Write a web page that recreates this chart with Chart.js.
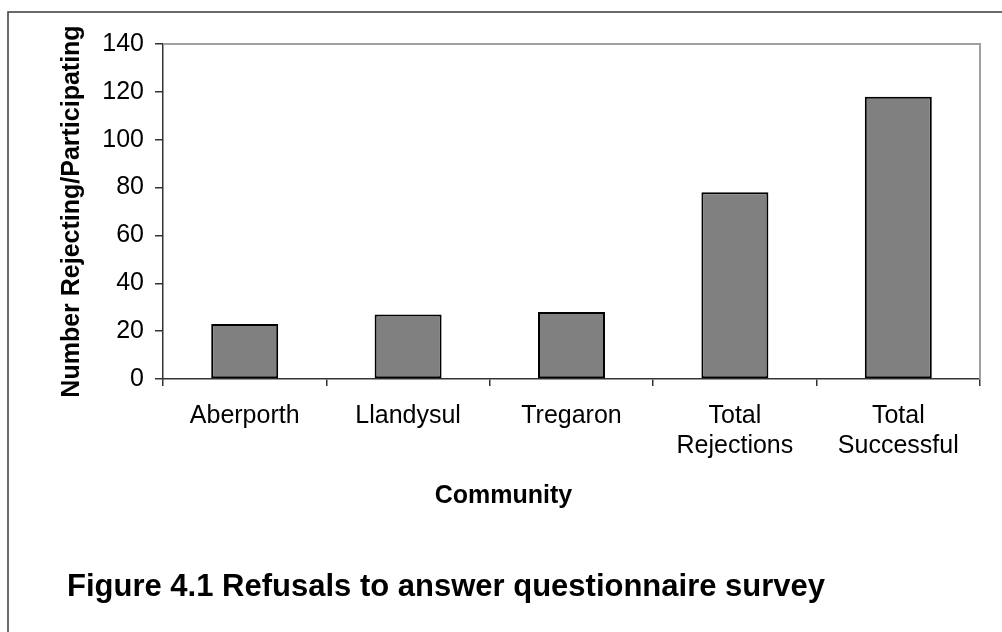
<!DOCTYPE html>
<html>
<head>
<meta charset="utf-8">
<title>Refusals to answer questionnaire survey</title>
<script src="https://cdn.jsdelivr.net/npm/chart.js@4/dist/chart.umd.min.js"></script>
<style>
  html, body { margin: 0; padding: 0; background: #ffffff; }
  canvas { display: block; }
</style>
</head>
<body>
<canvas id="chart" width="1002" height="632"></canvas>
<script>
// Survey figures per community
const categories = ['Aberporth', 'Llandysul', 'Tregaron', ['Total', 'Rejections'], ['Total', 'Successful']];
const counts = [23, 27, 28, 78, 118];

// Value axis ticks
const yMin = 0;
const yMax = 140;
const yStep = 20;

// Text
const xTitle = 'Community';
const yTitle = 'Number Rejecting/Participating';
const figureTitle = 'Figure 4.1 Refusals to answer questionnaire survey';

const FONT = '"Liberation Sans", Arial, Helvetica, sans-serif';

// Plot box
const PLOT = { left: 163, top: 44, right: 980, bottom: 379 };
const W = 1002, H = 632;

// Gray top/right edge of the plot area, outer frame, category title and caption
const decorations = {
  id: 'decorations',
  beforeDatasetsDraw(chart) {
    const { ctx, chartArea: a } = chart;
    ctx.save();
    ctx.strokeStyle = '#a0a0a0';
    ctx.lineWidth = 2;
    ctx.beginPath();
    ctx.moveTo(a.left, a.top);
    ctx.lineTo(a.right, a.top);
    ctx.lineTo(a.right, a.bottom);
    ctx.stroke();
    ctx.restore();
  },
  afterDraw(chart) {
    const { ctx } = chart;
    ctx.save();
    ctx.strokeStyle = '#3a3a3a';
    ctx.lineWidth = 1.5;
    ctx.strokeRect(8, 12, 1200, 800);

    ctx.fillStyle = '#000000';
    ctx.font = 'bold 25px ' + FONT;
    ctx.textAlign = 'center';
    ctx.textBaseline = 'middle';
    ctx.fillText(xTitle, 503.5, 496);

    ctx.font = 'bold 31px ' + FONT;
    ctx.textBaseline = 'alphabetic';
    ctx.textAlign = 'left';
    ctx.fillText(figureTitle, 67, 596);
    ctx.restore();
  }
};

new Chart(document.getElementById('chart'), {
  type: 'bar',
  data: {
    labels: categories,
    datasets: [{
      data: counts,
      backgroundColor: '#808080',
      borderColor: '#000000',
      borderWidth: 2,
      borderSkipped: false,
      categoryPercentage: 0.41,
      barPercentage: 1.0
    }]
  },
  options: {
    responsive: false,
    devicePixelRatio: 1,
    animation: false,
    layout: { padding: { left: 0, top: PLOT.top, right: W - PLOT.right, bottom: 0 } },
    plugins: {
      legend: { display: false },
      title: { display: false },
      tooltip: { enabled: false }
    },
    scales: {
      x: {
        offset: true,
        afterFit(scale) { scale.height = H - PLOT.bottom; },
        grid: {
          offset: true,
          display: true,
          drawOnChartArea: false,
          drawTicks: true,
          tickLength: 7,
          color: '#333333',
          lineWidth: 1.5
        },
        border: { display: true, color: '#333333', width: 1.5 },
        ticks: {
          color: '#000000',
          font: { family: FONT, size: 25, lineHeight: 1.2 },
          padding: 15,
          maxRotation: 0,
          autoSkip: false
        },
        title: { display: false }
      },
      y: {
        min: yMin,
        max: yMax,
        afterFit(scale) { scale.width = PLOT.left; },
        grid: {
          display: true,
          drawOnChartArea: false,
          drawTicks: true,
          tickLength: 8,
          color: '#333333',
          lineWidth: 1.5
        },
        border: { display: true, color: '#333333', width: 1.5 },
        ticks: {
          stepSize: yStep,
          color: '#000000',
          font: { family: FONT, size: 25 },
          padding: 11
        },
        title: {
          display: true,
          text: yTitle,
          color: '#000000',
          font: { family: FONT, size: 25, weight: 'bold', lineHeight: 1.2 },
          padding: { top: 57, bottom: 0 }
        }
      }
    }
  },
  plugins: [decorations]
});
</script>
</body>
</html>
